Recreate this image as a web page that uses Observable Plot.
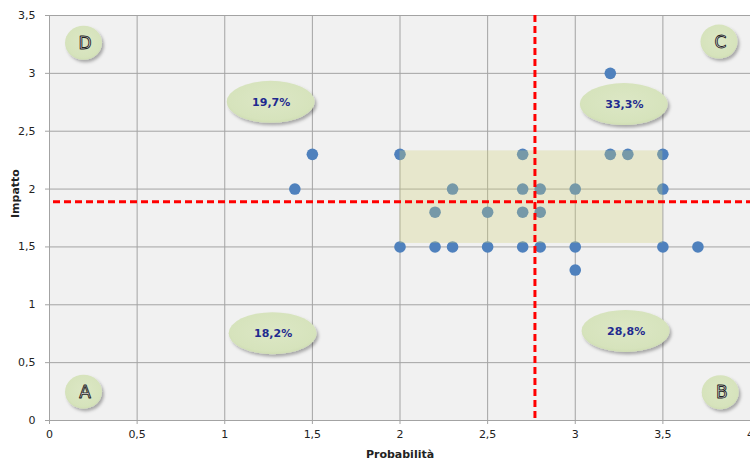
<!DOCTYPE html>
<html>
<head>
<meta charset="utf-8">
<script src="https://cdn.jsdelivr.net/npm/d3@7"></script>
<script src="https://cdn.jsdelivr.net/npm/@observablehq/plot@0.6"></script>
<style>
  html, body { margin: 0; padding: 0; background: #ffffff; overflow: hidden; }
  #chart svg { display: block; }
</style>
</head>
<body>
<div id="chart"></div>
<script>
// --- data ---
const probabilita = [1.5, 1.4, 2.0, 2.0, 2.2, 2.2, 2.3, 2.3, 2.5, 2.5, 2.7, 2.7, 2.7, 2.7, 2.8, 2.8, 2.8, 3.0, 3.0, 3.0, 3.2, 3.2, 3.3, 3.5, 3.5, 3.5, 3.7];
const impatto     = [2.3, 2.0, 2.3, 1.5, 1.8, 1.5, 2.0, 1.5, 1.8, 1.5, 2.3, 2.0, 1.8, 1.5, 2.0, 1.8, 1.5, 2.0, 1.5, 1.3, 3.0, 2.3, 2.3, 2.3, 2.0, 1.5, 1.5];

const sogliaProbabilita = [2.77];
const sogliaImpatto = [1.89];

const zonaX1 = [2.0], zonaX2 = [3.5], zonaY1 = [1.53], zonaY2 = [2.33];

const zoneLabels = ["A", "B", "C", "D"];
const zoneX = [0.197, 3.83, 3.823, 0.197];
const zoneY = [0.245, 0.24, 3.27, 3.26];

const pctLabels = ["18,2%", "28,8%", "33,3%", "19,7%"];
const pctX = [1.276, 3.29, 3.28, 1.265];
const pctY = [0.75, 0.77, 2.73, 2.75];

const xTicks = [0, 0.5, 1, 1.5, 2, 2.5, 3, 3.5, 4];
const yTicks = [0, 0.5, 1, 1.5, 2, 2.5, 3, 3.5];

// --- derived tables ---
const points = probabilita.map((p, i) => ({x: p, y: impatto[i]}));
const zona = zonaX1.map((v, i) => ({x1: v, x2: zonaX2[i], y1: zonaY1[i], y2: zonaY2[i]}));
const zones = zoneLabels.map((t, i) => ({t, x: zoneX[i], y: zoneY[i], kind: "zone"}));
const pcts = pctLabels.map((t, i) => ({t, x: pctX[i], y: pctY[i], kind: "pct"}));
const fmt = d => String(d).replace(".", ",");

function ellipses(index, scales) {
  const g = d3.create("svg:g");
  const defs = g.append("defs");
  const f = defs.append("filter").attr("id", "shadow").attr("x", "-30%").attr("y", "-30%").attr("width", "170%").attr("height", "170%");
  f.append("feDropShadow").attr("dx", 2).attr("dy", 2.5).attr("stdDeviation", 1.8).attr("flood-color", "#000").attr("flood-opacity", 0.3);
  const grad = defs.append("radialGradient").attr("id", "ellGrad").attr("cx", "50%").attr("cy", "45%").attr("r", "60%");
  grad.append("stop").attr("offset", "0%").attr("stop-color", "#dce7c5");
  grad.append("stop").attr("offset", "80%").attr("stop-color", "#d6e3bc");
  grad.append("stop").attr("offset", "100%").attr("stop-color", "#cbdaae");
  const all = zones.concat(pcts);
  g.selectAll("ellipse").data(all).join("ellipse")
    .attr("cx", d => scales.x(d.x))
    .attr("cy", d => scales.y(d.y))
    .attr("rx", d => d.kind === "zone" ? 18.5 : 44)
    .attr("ry", d => d.kind === "zone" ? 17 : 21)
    .attr("fill", "url(#ellGrad)")
    .attr("filter", "url(#shadow)");
  return g.node();
}

const plot = Plot.plot({
  width: 750,
  height: 465,
  marginLeft: 49,
  marginRight: 0,
  marginTop: 15,
  marginBottom: 45,
  style: {fontFamily: "'DejaVu Sans', Verdana, sans-serif", fontSize: "11px", background: "#ffffff", overflow: "hidden"},
  x: {domain: [0, 4]},
  y: {domain: [0, 3.5]},
  marks: [
    Plot.frame({fill: "#f1f1f1", stroke: null}),
    Plot.gridX(xTicks, {stroke: "#a3a3a3", strokeOpacity: 1, strokeWidth: 1}),
    Plot.gridY(yTicks, {stroke: "#a3a3a3", strokeOpacity: 1, strokeWidth: 1}),
    Plot.axisX(xTicks, {tickSize: 4, tickPadding: 6, tickFormat: fmt, label: null, stroke: "#a3a3a3", fill: "#222"}),
    Plot.axisY(yTicks, {tickSize: 4, tickPadding: 10, tickFormat: fmt, label: null, stroke: "#a3a3a3", fill: "#222"}),
    Plot.dot(points, {x: "x", y: "y", r: 5.8, fill: "#4f81bd", stroke: null}),
    Plot.rect(zona, {x1: "x1", x2: "x2", y1: "y1", y2: "y2", fill: "#d2d278", fillOpacity: 0.3}),
    Plot.ruleX(sogliaProbabilita, {stroke: "#ff0000", strokeWidth: 3, strokeDasharray: "7,4"}),
    Plot.ruleY(sogliaImpatto, {stroke: "#ff0000", strokeWidth: 3, strokeDasharray: "7,4", insetLeft: 4}),
    ellipses,
    Plot.text(zones, {x: "x", y: "y", text: "t", dx: 1, fontSize: 17, fill: "#e4e4e4", stroke: "#222", strokeWidth: 0.9, paintOrder: "fill"}),
    Plot.text(pcts, {x: "x", y: "y", text: "t", fontSize: 11, fontWeight: "bold", fill: "#1f2a8f"}),
    Plot.text(["Probabilità"], {frameAnchor: "bottom", dy: 37, fontWeight: "bold", fontSize: 11, fill: "#222"}),
    Plot.text(["Impatto"], {frameAnchor: "left", dx: -34, rotate: -90, fontWeight: "bold", fontSize: 11, fill: "#222"})
  ]
});

document.getElementById("chart").appendChild(plot);
</script>
</body>
</html>
